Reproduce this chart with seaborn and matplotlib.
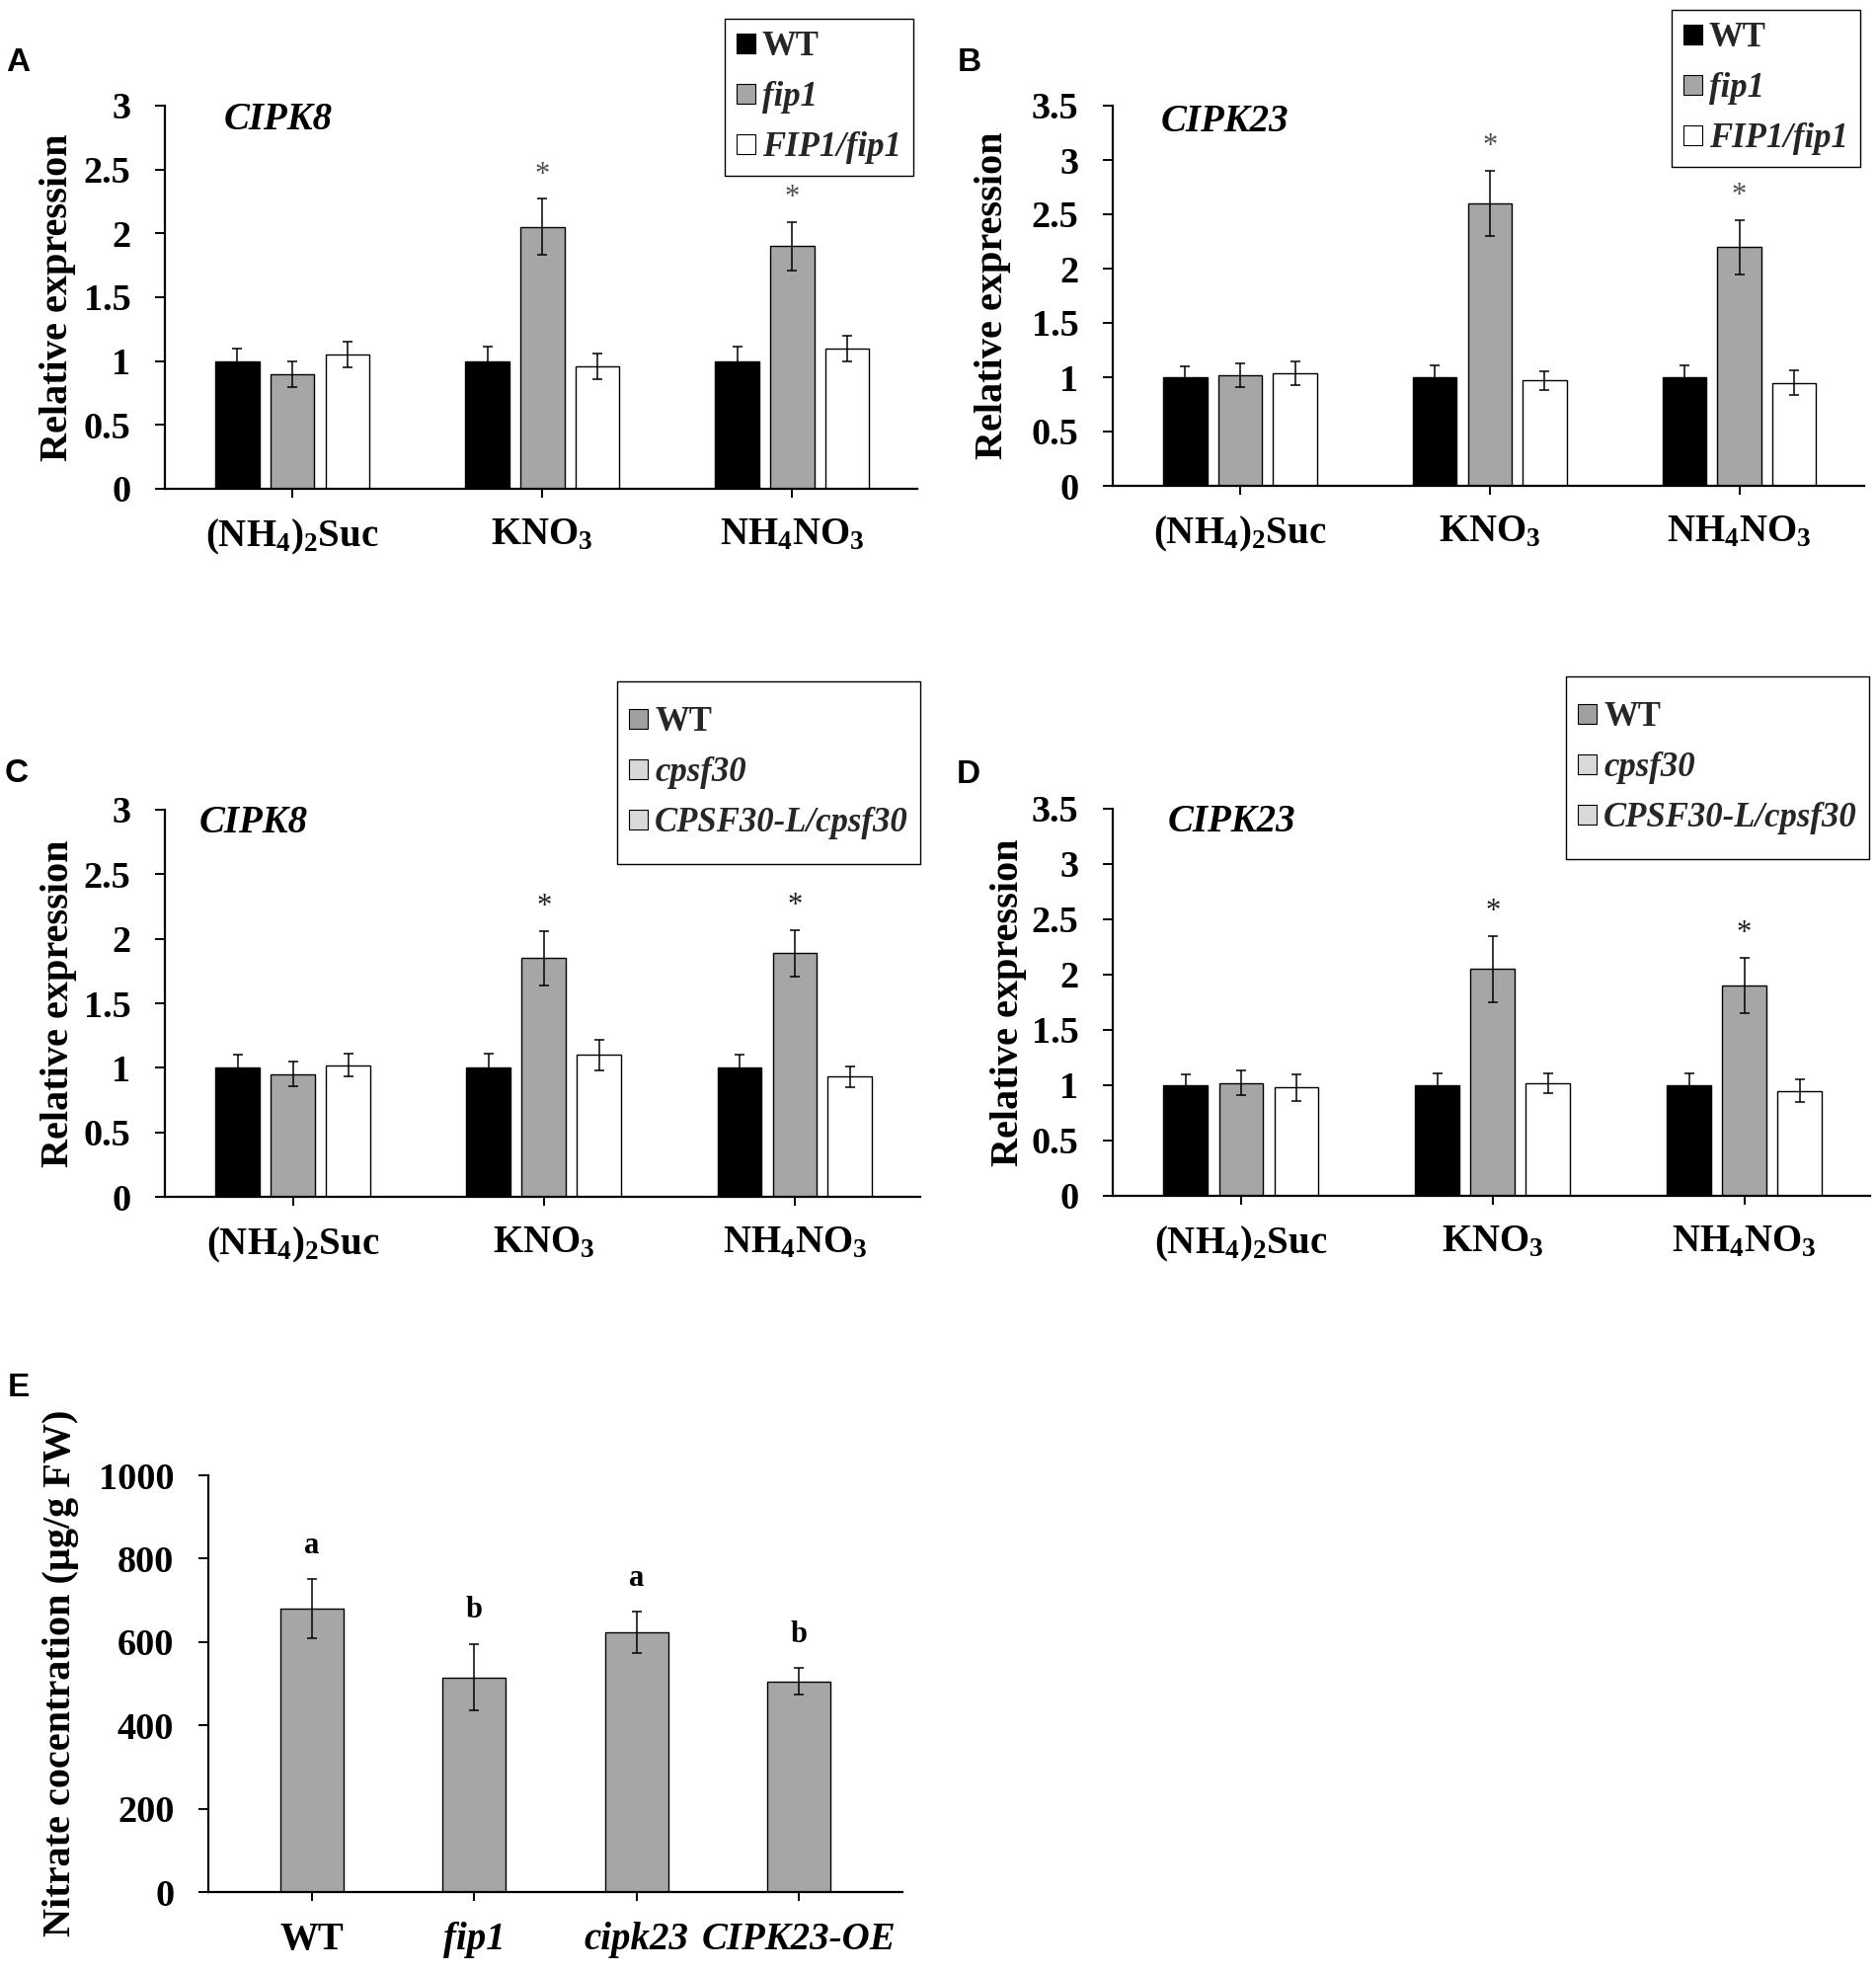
import numpy as np
import pandas as pd
import matplotlib
matplotlib.use("Agg")
import matplotlib.pyplot as plt
import seaborn as sns
from matplotlib.patches import Patch
from matplotlib.path import Path
from matplotlib.ticker import FuncFormatter, MultipleLocator

# ---------------- data ----------------
conditions = ["(NH4)2Suc", "KNO3", "NH4NO3"]
cond_labels = [r"$\mathbf{(NH_4)_2Suc}$", r"$\mathbf{KNO_3}$", r"$\mathbf{NH_4NO_3}$"]

# Panel A: CIPK8, fip1 lines
a_names = ["WT", "fip1", "FIP1/fip1"]
a_wt = [1.00, 1.00, 1.00]
a_wt_err = [0.10, 0.11, 0.11]
a_mut = [0.90, 2.05, 1.90]
a_mut_err = [0.10, 0.22, 0.19]
a_comp = [1.05, 0.96, 1.10]
a_comp_err = [0.10, 0.10, 0.10]

# Panel B: CIPK23, fip1 lines
b_names = ["WT", "fip1", "FIP1/fip1"]
b_wt = [1.00, 1.00, 1.00]
b_wt_err = [0.10, 0.11, 0.11]
b_mut = [1.02, 2.60, 2.20]
b_mut_err = [0.11, 0.30, 0.25]
b_comp = [1.04, 0.97, 0.95]
b_comp_err = [0.11, 0.085, 0.11]

# Panel C: CIPK8, cpsf30 lines
c_names = ["WT", "cpsf30", "CPSF30-L/cpsf30"]
c_wt = [1.00, 1.00, 1.00]
c_wt_err = [0.10, 0.11, 0.10]
c_mut = [0.95, 1.85, 1.89]
c_mut_err = [0.095, 0.21, 0.18]
c_comp = [1.02, 1.10, 0.93]
c_comp_err = [0.09, 0.12, 0.08]

# Panel D: CIPK23, cpsf30 lines
d_names = ["WT", "cpsf30", "CPSF30-L/cpsf30"]
d_wt = [1.00, 1.00, 1.00]
d_wt_err = [0.10, 0.11, 0.11]
d_mut = [1.02, 2.05, 1.90]
d_mut_err = [0.11, 0.30, 0.25]
d_comp = [0.98, 1.02, 0.95]
d_comp_err = [0.12, 0.09, 0.10]

star_marks = ["", "*", "*"]   # significance on mutant bars

# Panel E: nitrate concentration
e_genotypes = ["WT", "fip1", "cipk23", "CIPK23-OE"]
e_values = [680, 515, 623, 505]
e_errors = [71, 80, 50, 32]
e_letters = ["a", "b", "a", "b"]

# ---------------- style ----------------
sns.set_theme(style="ticks")
plt.rcParams["font.family"] = ["Liberation Serif", "DejaVu Serif"]
plt.rcParams["font.weight"] = "bold"
plt.rcParams["mathtext.fontset"] = "custom"
plt.rcParams["mathtext.rm"] = "Liberation Serif:bold"
plt.rcParams["mathtext.bf"] = "Liberation Serif:bold"
plt.rcParams["mathtext.it"] = "Liberation Serif:italic:bold"

BLACK, GRAY, WHITE = "#000000", "#a6a6a6", "#ffffff"
W, H = 1900, 1997
fig = plt.figure(figsize=(W / 100, H / 100), dpi=100)


def rect(l, t, r, b):
    return [l / W, 1 - b / H, (r - l) / W, (b - t) / H]


def fmt(v, pos):
    return "%g" % v


def style_axes(ax, ymax, ystep, xpad):
    ax.set_ylim(0, ymax)
    ax.yaxis.set_major_locator(MultipleLocator(ystep))
    ax.yaxis.set_major_formatter(FuncFormatter(fmt))
    for s in ["top", "right"]:
        ax.spines[s].set_visible(False)
    for s in ["left", "bottom"]:
        ax.spines[s].set_linewidth(1.6)
        ax.spines[s].set_color("black")
    ax.tick_params(axis="y", direction="out", length=7, width=1.4, pad=18,
                   labelsize=27.5, colors="black")
    ax.tick_params(axis="x", direction="out", length=6.5, width=1.4, pad=xpad,
                   labelsize=28, colors="black")
    ax.set_xlabel("")
    ax.grid(False)


def tall_box(extra):
    def style(x0, y0, width, height, mutation_size):
        return Path([(x0, y0 - extra), (x0 + width, y0 - extra),
                     (x0 + width, y0 + height + extra), (x0, y0 + height + extra),
                     (x0, y0 - extra)], closed=True)
    return style


def expr_panel(box, wt, mut, comp, wt_e, mut_e, comp_e, names, ymax, gene,
               gene_xy, star_color, ylab_x, leg_anchor, leg_colors, extra_pad):
    ax = fig.add_axes(rect(*box))
    df = pd.DataFrame({
        "cond": conditions * 3,
        "geno": [names[0]] * 3 + [names[1]] * 3 + [names[2]] * 3,
        "val": wt + mut + comp,
    })
    sns.barplot(data=df, x="cond", y="val", hue="geno", order=conditions,
                hue_order=names, palette=[BLACK, GRAY, WHITE], saturation=1,
                width=0.66, gap=0.2, edgecolor="black", linewidth=1.0,
                errorbar=None, legend=False, ax=ax)
    bars = sorted(ax.patches, key=lambda p: p.get_x())
    errs = [e for i in range(3) for e in (wt_e[i], mut_e[i], comp_e[i])]
    xs = [p.get_x() + p.get_width() / 2 for p in bars]
    hs = [p.get_height() for p in bars]
    ax.errorbar(xs, hs, yerr=errs, fmt="none", ecolor="black", elinewidth=1.1,
                capsize=3.8, capthick=1.1, zorder=5)
    for i in range(3):
        if star_marks[i]:
            k = i * 3 + 1
            ax.annotate(star_marks[i], xy=(xs[k], hs[k] + errs[k]),
                        xytext=(0, 7), textcoords="offset points",
                        ha="center", va="bottom", fontsize=22,
                        color=star_color, fontweight="normal")
    ax.set_xlim(-0.51, 2.5)
    ax.set_xticks(range(3))
    ax.set_xticklabels(cond_labels)
    style_axes(ax, ymax, 0.5, 14)
    ax.set_ylabel("Relative expression", fontsize=29, fontweight="bold",
                  color="black")
    ax.yaxis.label.set_va("center")
    ax.yaxis.set_label_coords(ylab_x, 0.5)
    ax.text(gene_xy[0], gene_xy[1], gene, ha="center", va="center",
            fontsize=28, fontstyle="italic", fontweight="bold", color="black")
    handles = [Patch(facecolor=c, edgecolor="black", linewidth=0.8)
               for c in leg_colors]
    leg = ax.legend(handles, names, loc="upper right",
                    bbox_to_anchor=(leg_anchor[0] / W, 1 - (leg_anchor[1] + extra_pad) / H),
                    bbox_transform=fig.transFigure, borderaxespad=0,
                    fontsize=25, frameon=True, fancybox=False, framealpha=1,
                    handlelength=0.55, handleheight=0.5, handletextpad=0.2,
                    labelspacing=0.52, borderpad=0.35)
    leg.get_frame().set_edgecolor("black")
    leg.get_frame().set_linewidth(1.0)
    if extra_pad:
        leg.get_frame().set_boxstyle(tall_box(extra_pad))
    for t in leg.get_texts()[1:]:
        t.set_fontstyle("italic")
    for t in leg.get_texts():
        t.set_fontweight("bold")
    return ax


expr_panel((167, 107, 929, 495), a_wt, a_mut, a_comp, a_wt_err, a_mut_err,
           a_comp_err, a_names, 3.0, "CIPK8", (-0.055, 2.89), "#505050",
           -0.143, (925, 19), [BLACK, GRAY, WHITE], 0)
expr_panel((1127, 107, 1888, 492), b_wt, b_mut, b_comp, b_wt_err, b_mut_err,
           b_comp_err, b_names, 3.5, "CIPK23", (-0.063, 3.35), "#505050",
           -0.160, (1884, 10), [BLACK, GRAY, WHITE], 0)
expr_panel((167, 820, 932, 1212), c_wt, c_mut, c_comp, c_wt_err, c_mut_err,
           c_comp_err, c_names, 3.0, "CIPK8", (-0.158, 2.90), "#202020",
           -0.141, (932, 690), ["#a0a0a0", "#d9d9d9", "#d9d9d9"], 13)
expr_panel((1127, 819, 1894, 1211), d_wt, d_mut, d_comp, d_wt_err, d_mut_err,
           d_comp_err, d_names, 3.5, "CIPK23", (-0.036, 3.376), "#202020",
           -0.137, (1893, 685), ["#a0a0a0", "#d9d9d9", "#d9d9d9"], 13)

# ---------------- Panel E ----------------
axe = fig.add_axes(rect(211, 1494, 914, 1916))
dfe = pd.DataFrame({"geno": e_genotypes, "val": e_values})
sns.barplot(data=dfe, x="geno", y="val", order=e_genotypes, color=GRAY,
            saturation=1, width=0.39, edgecolor="black", linewidth=1.0,
            errorbar=None, ax=axe)
ebars = sorted(axe.patches, key=lambda p: p.get_x())
exs = [p.get_x() + p.get_width() / 2 for p in ebars]
ehs = [p.get_height() for p in ebars]
axe.errorbar(exs, ehs, yerr=e_errors, fmt="none", ecolor="black",
             elinewidth=1.1, capsize=3.8, capthick=1.1, zorder=5)
for x, h, e, lt in zip(exs, ehs, e_errors, e_letters):
    axe.annotate(lt, xy=(x, h + e), xytext=(0, 14), textcoords="offset points",
                 ha="center", va="bottom", fontsize=22, fontweight="bold",
                 color="black")
axe.set_xlim(-0.64, 3.64)
axe.set_xticks(range(4))
axe.set_xticklabels(e_genotypes)
style_axes(axe, 1000, 200, 15)
for t in axe.get_xticklabels()[1:]:
    t.set_fontstyle("italic")
axe.set_ylabel("Nitrate cocentration (µg/g FW)", fontsize=29,
               fontweight="bold", color="black")
axe.yaxis.label.set_va("center")
axe.yaxis.set_label_coords(-0.212, 0.526)

# ---------------- panel letters ----------------
for lt, (px, py) in zip("ABCDE", [(18, 64), (982, 64), (17, 783), (981, 785), (19, 1406)]):
    fig.text(px / W, 1 - py / H, lt, ha="center", va="center", fontsize=24,
             fontweight="bold", family="Liberation Sans", color="black")

fig.savefig("out.png", dpi=100, facecolor="white")
